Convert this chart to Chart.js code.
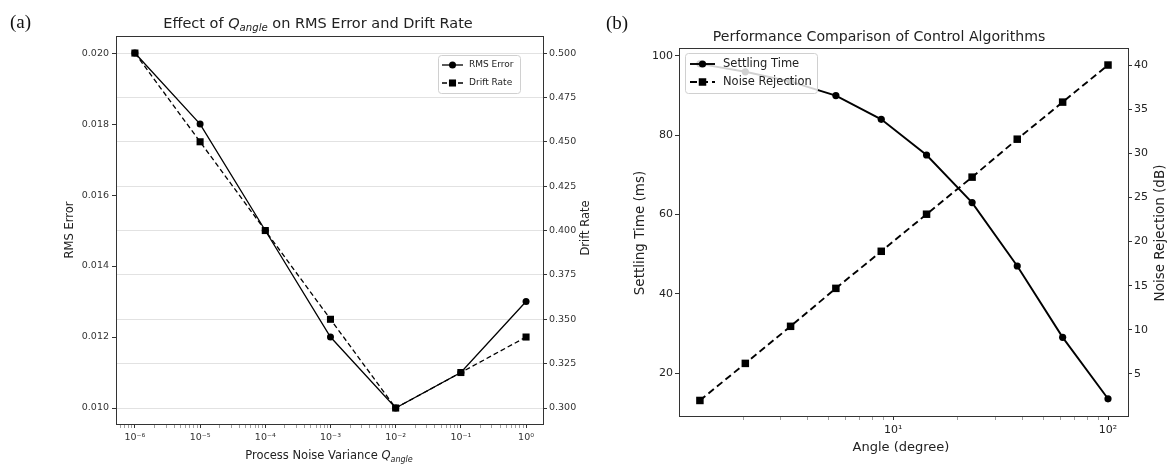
<!DOCTYPE html>
<html>
<head>
<meta charset="utf-8">
<script src="https://cdn.jsdelivr.net/npm/chart.js@4.4.1/dist/chart.umd.min.js"></script>
<style>
  body { margin: 0; background: #fff; }
  #wrap { position: relative; width: 1169px; height: 466px; }
  #chartA { position: absolute; left: 0; top: 0; }
  #chartB { position: absolute; left: 600px; top: 0; }
</style>
</head>
<body>
<div id="wrap">
  <canvas id="chartA" width="600" height="466"></canvas>
  <canvas id="chartB" width="569" height="466"></canvas>
</div>
<script>
// (a) Effect of Q_angle
const qAngle = [1e-6, 1e-5, 1e-4, 1e-3, 1e-2, 1e-1, 1];
const rmsError = [0.020, 0.018, 0.015, 0.012, 0.010, 0.011, 0.013];
const driftRate = [0.500, 0.450, 0.400, 0.350, 0.300, 0.320, 0.340];
const qTickLabels = { '-6': '10⁻⁶', '-5': '10⁻⁵', '-4': '10⁻⁴', '-3': '10⁻³', '-2': '10⁻²', '-1': '10⁻¹', '0': '10⁰' };
const rmsTicks = [0.010, 0.012, 0.014, 0.016, 0.018, 0.020];
const driftTicks = [0.300, 0.325, 0.350, 0.375, 0.400, 0.425, 0.450, 0.475, 0.500];

// (b) Performance comparison
const angleDeg = [1.26, 2.05, 3.33, 5.41, 8.80, 14.3, 23.3, 37.8, 61.5, 100];
const settlingTime = [98, 96, 93.5, 90, 84, 75, 63, 47, 29, 13.5];
const noiseRejection = [2, 6.2, 10.4, 14.7, 18.9, 23.1, 27.3, 31.6, 35.8, 40];
const angleTickLabels = { '1': '10¹', '2': '10²' };
const settlingTicks = [20, 40, 60, 80, 100];
const noiseTicks = [5, 10, 15, 20, 25, 30, 35, 40];

const FONT = 'DejaVu Sans';
const toXY = (xs, ys) => xs.map((x, i) => ({ x: x, y: ys[i] }));

// decade + minor ticks for a log axis
function logTicks(min, max) {
  const out = [];
  for (let k = Math.floor(Math.log10(min)); k <= Math.ceil(Math.log10(max)); k++) {
    for (let m = 1; m <= 9; m++) {
      const v = parseFloat((m * Math.pow(10, k)).toPrecision(6));
      if (v >= min && v <= max) out.push({ value: v, major: m === 1 });
    }
  }
  return out;
}

function drawRich(ctx, t) {
  const segs = t.segs || [{ t: t.text }];
  const fam = t.family || FONT;
  const fontFor = s => (s.italic ? 'italic ' : '') + (s.sub ? t.size * 0.7 : t.size) + 'px "' + fam + '"';
  const widths = segs.map(s => { ctx.font = fontFor(s); return ctx.measureText(s.t).width; });
  const total = widths.reduce((a, b) => a + b, 0);
  ctx.save();
  ctx.translate(t.x, t.y);
  if (t.rot) ctx.rotate(t.rot);
  let x = t.align === 'left' ? 0 : -total / 2;
  ctx.fillStyle = t.color || '#222';
  ctx.textBaseline = 'middle';
  ctx.textAlign = 'left';
  segs.forEach((s, i) => {
    ctx.font = fontFor(s);
    ctx.fillText(s.t, x, s.sub ? t.size * 0.32 : 0);
    x += widths[i];
  });
  ctx.restore();
}

function drawMarker(ctx, style, r, x, y) {
  ctx.beginPath();
  if (style === 'rect') {
    const h = r * Math.SQRT1_2;
    ctx.rect(x - h, y - h, 2 * h, 2 * h);
  } else {
    ctx.arc(x, y, r, 0, Math.PI * 2);
  }
  ctx.fill();
}

function decor(id, texts, lg) {
  return {
    id: id,
    afterDraw(chart) {
      const ctx = chart.ctx, a = chart.chartArea;
      // frame
      ctx.save();
      ctx.strokeStyle = '#333';
      ctx.lineWidth = 1;
      ctx.strokeRect(Math.round(a.left) + 0.5, Math.round(a.top) + 0.5, Math.round(a.right - a.left), Math.round(a.bottom - a.top));
      // legend
      const bx = lg.right != null ? a.right - lg.right - lg.w : a.left + lg.left;
      const by = a.top + lg.top;
      ctx.beginPath();
      ctx.roundRect(bx + 0.5, by + 0.5, lg.w, lg.h, 3);
      ctx.fillStyle = 'rgba(255,255,255,0.82)';
      ctx.fill();
      ctx.strokeStyle = '#d0d0d0';
      ctx.stroke();
      chart.data.datasets.forEach((ds, i) => {
        const cy = by + lg.padY + lg.rowH * (i + 0.5);
        const lx = bx + lg.padX;
        ctx.strokeStyle = ds.borderColor;
        ctx.lineWidth = ds.borderWidth;
        ctx.setLineDash(ds.borderDash || []);
        ctx.beginPath();
        ctx.moveTo(lx, cy);
        ctx.lineTo(lx + lg.lineLen, cy);
        ctx.stroke();
        ctx.setLineDash([]);
        ctx.fillStyle = ds.backgroundColor;
        drawMarker(ctx, ds.pointStyle, ds.pointRadius, lx + lg.lineLen / 2, cy);
        ctx.fillStyle = '#222';
        ctx.font = lg.size + 'px "' + FONT + '"';
        ctx.textBaseline = 'middle';
        ctx.fillText(ds.label, lx + lg.lineLen + lg.gap, cy);
      });
      ctx.restore();
      texts.forEach(t => drawRich(ctx, t));
    }
  };
}

// ---------- chart (a) ----------
const tickA = { family: FONT, size: 9.5 };
new Chart(document.getElementById('chartA').getContext('2d'), {
  type: 'line',
  data: {
    datasets: [
      { label: 'RMS Error', data: toXY(qAngle, rmsError), yAxisID: 'y', borderColor: '#000', backgroundColor: '#000',
        borderWidth: 1.3, pointStyle: 'circle', pointRadius: 3.5, pointBorderWidth: 0, tension: 0 },
      { label: 'Drift Rate', data: toXY(qAngle, driftRate), yAxisID: 'y1', borderColor: '#000', backgroundColor: '#000',
        borderWidth: 1.3, borderDash: [5, 3], pointStyle: 'rect', pointRadius: 5, pointBorderWidth: 0, tension: 0 }
    ]
  },
  options: {
    responsive: false,
    animation: false,
    layout: { padding: { top: 36, left: 0, right: 0, bottom: 0 } },
    plugins: { legend: { display: false }, tooltip: { enabled: false } },
    scales: {
      x: {
        type: 'logarithmic', bounds: 'data', min: Math.pow(10, -6.29), max: Math.pow(10, 0.26),
        afterBuildTicks: s => { s.ticks = logTicks(s.min, s.max); },
        afterFit: s => { s.height = 42; },
        ticks: { autoSkip: false, maxRotation: 0, padding: 4, color: '#333', font: tickA,
          callback: (v, i, ticks) => ticks[i].major ? qTickLabels[String(Math.round(Math.log10(v)))] : '' },
        grid: { drawOnChartArea: false, tickLength: 4,
          tickColor: c => (c.tick && c.tick.major) ? '#333' : '#777',
          tickWidth: c => (c.tick && c.tick.major) ? 1 : 0.7 },
        border: { display: false }
      },
      y: {
        position: 'left', min: 0.00955, max: 0.02048,
        afterBuildTicks: s => { s.ticks = rmsTicks.map(v => ({ value: v })); },
        afterFit: s => { s.width = 116; },
        ticks: { padding: 3, color: '#333', font: tickA, callback: v => v.toFixed(3) },
        grid: { drawOnChartArea: false, tickLength: 4, tickColor: '#333' },
        border: { display: false }
      },
      y1: {
        position: 'right', min: 0.2910, max: 0.5096,
        afterBuildTicks: s => { s.ticks = driftTicks.map(v => ({ value: v })); },
        afterFit: s => { s.width = 57; },
        ticks: { padding: 2, color: '#333', font: tickA, callback: v => v.toFixed(3) },
        grid: { drawOnChartArea: true, color: '#e2e2e2', lineWidth: 1, tickLength: 4, tickColor: '#333' },
        border: { display: false }
      }
    }
  },
  plugins: [decor('decorA', [
    { text: '(a)', x: 10, y: 23, size: 19, family: 'Liberation Serif', align: 'left', color: '#111' },
    { segs: [{ t: 'Effect of ' }, { t: 'Q', italic: true }, { t: 'angle', italic: true, sub: true }, { t: ' on RMS Error and Drift Rate' }],
      x: 318, y: 24, size: 14.5 },
    { text: 'RMS Error', x: 70, y: 230, size: 11.5, rot: -Math.PI / 2 },
    { text: 'Drift Rate', x: 586, y: 228, size: 11.5, rot: -Math.PI / 2 },
    { segs: [{ t: 'Process Noise Variance ' }, { t: 'Q', italic: true }, { t: 'angle', italic: true, sub: true }],
      x: 329, y: 456, size: 11.5 }
  ], { right: 23, top: 19, w: 82, h: 38, padX: 4, padY: 1, rowH: 18, lineLen: 21, gap: 6, size: 9 })]
});

// ---------- chart (b) ----------
const tickB = { family: FONT, size: 11 };
new Chart(document.getElementById('chartB').getContext('2d'), {
  type: 'line',
  data: {
    datasets: [
      { label: 'Settling Time', data: toXY(angleDeg, settlingTime), yAxisID: 'y', borderColor: '#000', backgroundColor: '#000',
        borderWidth: 1.9, pointStyle: 'circle', pointRadius: 3.6, pointBorderWidth: 0, tension: 0 },
      { label: 'Noise Rejection', data: toXY(angleDeg, noiseRejection), yAxisID: 'y1', borderColor: '#000', backgroundColor: '#000',
        borderWidth: 1.9, borderDash: [7, 4], pointStyle: 'rect', pointRadius: 5.3, pointBorderWidth: 0, tension: 0 }
    ]
  },
  options: {
    responsive: false,
    animation: false,
    layout: { padding: { top: 48, left: 0, right: 0, bottom: 0 } },
    plugins: { legend: { display: false }, tooltip: { enabled: false } },
    scales: {
      x: {
        type: 'logarithmic', bounds: 'data', min: 1.007, max: 123.9,
        afterBuildTicks: s => { s.ticks = logTicks(s.min, s.max); },
        afterFit: s => { s.height = 50; },
        ticks: { autoSkip: false, maxRotation: 0, padding: 4, color: '#222', font: tickB,
          callback: (v, i, ticks) => ticks[i].major ? angleTickLabels[String(Math.round(Math.log10(v)))] : '' },
        grid: { drawOnChartArea: false, tickLength: 4,
          tickColor: c => (c.tick && c.tick.major) ? '#333' : '#777',
          tickWidth: c => (c.tick && c.tick.major) ? 1 : 0.7 },
        border: { display: false }
      },
      y: {
        position: 'left', min: 9.16, max: 102.0,
        afterBuildTicks: s => { s.ticks = settlingTicks.map(v => ({ value: v })); },
        afterFit: s => { s.width = 79; },
        ticks: { padding: 2, color: '#222', font: tickB },
        grid: { drawOnChartArea: false, tickLength: 4, tickColor: '#333' },
        border: { display: false }
      },
      y1: {
        position: 'right', min: 0.24, max: 41.93,
        afterBuildTicks: s => { s.ticks = noiseTicks.map(v => ({ value: v })); },
        afterFit: s => { s.width = 41; },
        ticks: { padding: 2, color: '#222', font: tickB },
        grid: { drawOnChartArea: false, tickLength: 4, tickColor: '#333' },
        border: { display: false }
      }
    }
  },
  plugins: [decor('decorB', [
    { text: '(b)', x: 6, y: 24, size: 19, family: 'Liberation Serif', align: 'left', color: '#111' },
    { text: 'Performance Comparison of Control Algorithms', x: 279, y: 37, size: 14.1 },
    { text: 'Settling Time (ms)', x: 40, y: 233, size: 13.5, rot: -Math.PI / 2 },
    { text: 'Noise Rejection (dB)', x: 560, y: 233, size: 13.5, rot: -Math.PI / 2 },
    { text: 'Angle (degree)', x: 301, y: 448, size: 13 }
  ], { left: 6, top: 5, w: 132, h: 40, padX: 5, padY: 2, rowH: 18, lineLen: 25, gap: 8, size: 11.5 })]
});
</script>
</body>
</html>
